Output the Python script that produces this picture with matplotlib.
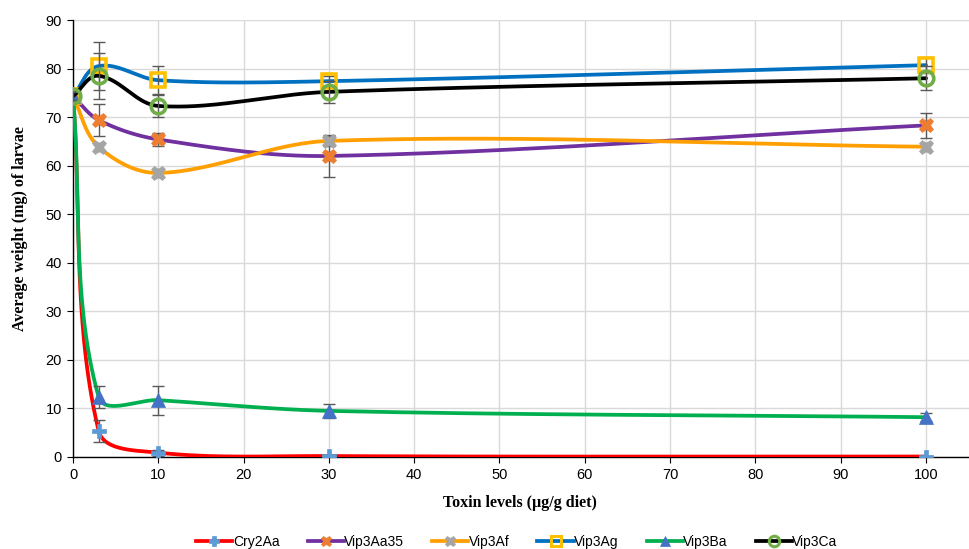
import numpy as np
import matplotlib
matplotlib.use("Agg")
import matplotlib.pyplot as plt
from matplotlib.lines import Line2D

# ---- data ----
doses = [0, 3, 10, 30, 100]
series_names = ["Cry2Aa", "Vip3Aa35", "Vip3Af", "Vip3Ag", "Vip3Ba", "Vip3Ca"]
cry2aa = [74.3, 5.4, 0.9, 0.2, 0.1]
cry2aa_err = [0.8, 2.3, 0.6, 0.2, 0.1]
vip3aa35 = [74.3, 69.4, 65.4, 62.0, 68.3]
vip3aa35_err = [0.8, 3.2, 1.4, 4.4, 2.6]
vip3af = [74.3, 63.9, 58.5, 65.1, 63.9]
vip3af_err = [0.8, 0.8, 0.8, 1.1, 0.8]
vip3ag = [74.3, 80.5, 77.6, 77.4, 80.7]
vip3ag_err = [0.8, 4.9, 2.9, 1.0, 1.7]
vip3ba = [74.3, 12.4, 11.7, 9.5, 8.2]
vip3ba_err = [0.8, 2.3, 3.0, 1.5, 0.8]
vip3ca = [74.3, 78.5, 72.3, 75.2, 78.0]
vip3ca_err = [0.8, 4.8, 2.2, 2.2, 2.5]

values = [cry2aa, vip3aa35, vip3af, vip3ag, vip3ba, vip3ca]
errors = [cry2aa_err, vip3aa35_err, vip3af_err, vip3ag_err, vip3ba_err, vip3ca_err]

line_colors = ["#FF0000", "#7030A0", "#FF9F00", "#0070C0", "#00B050", "#000000"]
marker_styles = [
    dict(marker="P", markersize=9.5, markerfacecolor="#5B9BD5", markeredgecolor="#5B9BD5", markeredgewidth=0.5),
    dict(marker="X", markersize=10.5, markerfacecolor="#ED7D31", markeredgecolor="#ED7D31", markeredgewidth=0.5),
    dict(marker="X", markersize=10.5, markerfacecolor="#A5A5A5", markeredgecolor="#A5A5A5", markeredgewidth=0.5),
    dict(marker="s", markersize=10.5, markerfacecolor="none", markeredgecolor="#FFC000", markeredgewidth=2.6),
    dict(marker="^", markersize=10.5, markerfacecolor="#4472C4", markeredgecolor="#4472C4", markeredgewidth=0.5),
    dict(marker="o", markersize=10.5, markerfacecolor="none", markeredgecolor="#70AD47", markeredgewidth=2.6),
]

W, H = 969, 549
fig = plt.figure(figsize=(W / 100, H / 100), dpi=100)
ax = fig.add_axes([73 / W, 92 / H, (W - 73) / W, (457 - 20) / H])
ax.set_xlim(0, (W - 73) / 8.53)
ax.set_ylim(0, 90)
ax.set_xticks(range(0, 101, 10))
ax.set_yticks(range(0, 91, 10))
ax.grid(True, color="#D9D9D9", linewidth=1)
ax.set_axisbelow(True)
for s in ["top", "right"]:
    ax.spines[s].set_visible(False)
for s in ["left", "bottom"]:
    ax.spines[s].set_color("black")
    ax.spines[s].set_linewidth(1)
ax.tick_params(axis="both", direction="out", length=4, color="black", labelsize=10.5, pad=4)
for lab in ax.get_xticklabels() + ax.get_yticklabels():
    lab.set_fontfamily("Liberation Sans")


def smooth(xs, ys, k=1 / 3, n=60):
    trans = ax.transData
    P = trans.transform(np.column_stack([xs, ys]))
    m = len(P)
    tang = []
    for i in range(m):
        a = P[max(i - 1, 0)]
        b = P[min(i + 1, m - 1)]
        d = b - a
        tang.append(d / np.linalg.norm(d))
    pts = []
    t = np.linspace(0, 1, n)[:, None]
    for i in range(m - 1):
        p0, p3 = P[i], P[i + 1]
        L = np.linalg.norm(p3 - p0)
        c1 = p0 + tang[i] * L * k
        c2 = p3 - tang[i + 1] * L * k
        seg = ((1 - t) ** 3) * p0 + 3 * ((1 - t) ** 2) * t * c1 + 3 * (1 - t) * t ** 2 * c2 + t ** 3 * p3
        pts.append(seg if i == 0 else seg[1:])
    pts = np.vstack(pts)
    return trans.inverted().transform(pts)


handles = []
for i, (name, ys, es) in enumerate(zip(series_names, values, errors)):
    z = 3 + i
    curve = smooth(doses, ys)
    ax.plot(curve[:, 0], curve[:, 1], color=line_colors[i], lw=2.7, zorder=z, solid_capstyle="round")
    ax.errorbar(doses, ys, yerr=es, fmt="none", ecolor="#595959", elinewidth=1, capsize=4, capthick=1, zorder=z)
    ax.plot(doses, ys, linestyle="none", zorder=z + 0.5, **marker_styles[i])
    ms = dict(marker_styles[i])
    ms["markersize"] = ms["markersize"] * 0.72
    if ms["markerfacecolor"] == "none":
        ms["markeredgewidth"] = 2.2
    handles.append(Line2D([], [], color=line_colors[i], lw=2.7, **ms))

fig.text(520 / W, 1 - 503 / H, "Toxin levels (µg/g diet)", ha="center", va="center",
         fontfamily="Liberation Serif", fontweight="bold", fontsize=11.5)
fig.text(20 / W, 1 - 229 / H, "Average weight (mg) of larvae", ha="center", va="center", rotation=90,
         fontfamily="Liberation Serif", fontweight="bold", fontsize=11.5)

fig.legend(handles, series_names, loc="center", bbox_to_anchor=(517 / W, 1 - 542 / H), ncol=6,
           frameon=False, prop={"family": "Liberation Sans", "size": 10}, handlelength=2.6,
           handletextpad=0.05, columnspacing=2.0, borderaxespad=0)

fig.savefig("out.png", dpi=100)
